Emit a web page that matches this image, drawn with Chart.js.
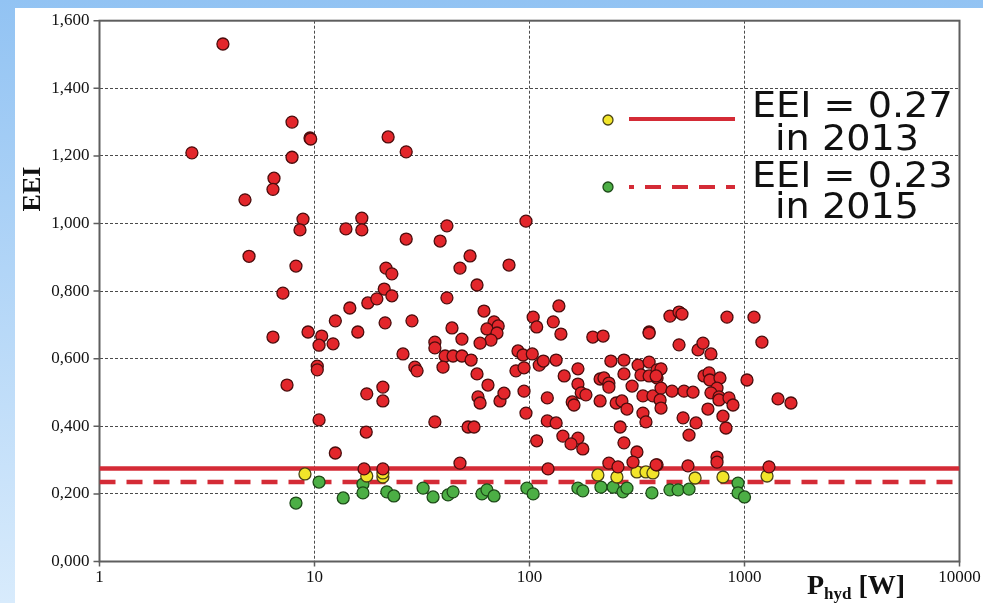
<!DOCTYPE html>
<html>
<head>
<meta charset="utf-8">
<script src="https://cdn.jsdelivr.net/npm/chart.js@4.4.1/dist/chart.umd.min.js"></script>
<style>
  html, body { margin: 0; padding: 0; background: #fff; }
  #wrap { width: 983px; height: 603px; }
</style>
</head>
<body>
<div id="wrap"><canvas id="eeiChart" width="983" height="603"></canvas></div>
<script>
// values: P_hyd [W] and EEI for each pump
const redP = [3.75, 2.69, 7.86, 9.53, 7.86, 6.48, 6.41, 4.75, 8.84, 8.56, 4.96, 8.2, 7.13, 6.41, 9.33, 7.45, 9.6,
  10.5, 10.8, 10.5, 10.3, 10.3, 12.2, 12.5, 14.6, 15.9, 16.6, 14.0, 16.6, 17.7, 19.5, 21.1, 22.9, 21.3, 21.5, 22.9,
  26.7, 22.0, 26.7, 28.4, 25.8, 29.3, 30.0, 17.5, 20.8, 20.8, 17.4, 12.5, 36.3, 47.5, 17.0, 20.8, 41.3, 38.4, 52.9,
  47.5, 80.3, 96.3, 57.0, 41.3, 61.4, 43.6, 48.5, 36.3, 36.3, 40.5, 44.1, 48.5, 53.5, 39.6, 57.0, 64.1, 57.6, 58.9,
  72.9, 76.1, 51.8, 55.2, 68.4, 71.5, 63.4, 70.6, 66.2, 58.9, 88.4, 93.3, 86.5, 94.3, 94.3, 96.3,
  104, 108, 129, 137, 140, 197, 220, 360, 103, 111, 116, 133, 168, 145, 121, 158, 161, 168, 174, 183, 121, 133, 108,
  143, 168, 156, 177, 122, 239, 275, 275, 213, 222, 234, 234, 300, 320, 360, 330, 360, 392, 392, 213, 253, 269, 284,
  337, 375, 337, 348, 264, 275, 316, 303, 234, 258, 392, 450, 496, 512, 829, 1107, 360, 496, 608, 641, 698, 1205,
  409, 388, 409, 460, 523, 576, 405, 409, 648, 684, 690, 769, 745, 698, 761, 761, 847, 884, 676, 794, 518, 595, 820,
  552, 1027, 1432, 1645, 745, 745, 388, 546, 1300];
const redEEI = [1.531, 1.209, 1.300, 1.253, 1.196, 1.134, 1.101, 1.070, 1.013, 0.981, 0.903, 0.874, 0.794, 0.664, 0.679, 0.522, 1.250,
  0.419, 0.667, 0.640, 0.578, 0.567, 0.644, 0.712, 0.750, 0.679, 1.016, 0.984, 0.981, 0.765, 0.777, 0.806, 0.786, 0.706, 0.868, 0.851,
  0.954, 1.256, 1.212, 0.712, 0.614, 0.575, 0.564, 0.496, 0.516, 0.475, 0.383, 0.321, 0.413, 0.291, 0.274, 0.274, 0.993, 0.948, 0.904,
  0.868, 0.877, 1.007, 0.818, 0.780, 0.741, 0.691, 0.658, 0.649, 0.632, 0.608, 0.608, 0.608, 0.596, 0.575, 0.555, 0.522, 0.487, 0.469,
  0.475, 0.498, 0.398, 0.398, 0.709, 0.697, 0.688, 0.676, 0.655, 0.646, 0.623, 0.611, 0.564, 0.573, 0.504, 0.439,
  0.723, 0.694, 0.709, 0.756, 0.673, 0.664, 0.667, 0.679, 0.614, 0.581, 0.593, 0.596, 0.570, 0.549, 0.484, 0.472, 0.463, 0.525, 0.499, 0.493, 0.416, 0.410, 0.357,
  0.371, 0.365, 0.348, 0.333, 0.274, 0.593, 0.596, 0.555, 0.540, 0.543, 0.528, 0.516, 0.519, 0.581, 0.590, 0.552, 0.549, 0.567, 0.543, 0.475, 0.469, 0.475, 0.451,
  0.490, 0.490, 0.439, 0.413, 0.398, 0.351, 0.324, 0.294, 0.291, 0.280, 0.286, 0.726, 0.738, 0.732, 0.723, 0.723, 0.676, 0.641, 0.626, 0.646, 0.614, 0.649,
  0.570, 0.549, 0.513, 0.504, 0.504, 0.501, 0.478, 0.454, 0.549, 0.558, 0.537, 0.543, 0.513, 0.499, 0.487, 0.478, 0.484, 0.463, 0.451, 0.430, 0.425, 0.410, 0.395,
  0.374, 0.537, 0.481, 0.469, 0.309, 0.294, 0.286, 0.283, 0.280];

const yellowP = [9.03, 17.5, 20.8, 20.8, 208, 255, 316, 348, 375, 589, 794, 1273];
const yellowEEI = [0.259, 0.253, 0.250, 0.262, 0.256, 0.250, 0.265, 0.265, 0.262, 0.247, 0.250, 0.253];

const greenP = [8.2, 10.5, 13.6, 16.8, 16.8, 21.7, 23.4, 32.0, 35.6, 41.8, 44.1, 60.1, 63.4, 68.4, 97.3, 104,
  168, 177, 215, 245, 272, 284, 371, 450, 491, 552, 933, 933, 1000];
const greenEEI = [0.173, 0.235, 0.188, 0.229, 0.203, 0.206, 0.194, 0.217, 0.191, 0.197, 0.206, 0.200, 0.212, 0.194, 0.217, 0.200,
  0.217, 0.209, 0.220, 0.220, 0.206, 0.217, 0.203, 0.212, 0.212, 0.214, 0.232, 0.203, 0.191];

const limit2013 = 0.275;
const limit2015 = 0.235;
const legendText = [["EEI = 0.27", "in 2013"], ["EEI = 0.23", "in 2015"]];

const xTicks = [1, 10, 100, 1000, 10000];
const yTicks = [0, 0.2, 0.4, 0.6, 0.8, 1.0, 1.2, 1.4, 1.6];

const RED = '#d42b36';
const serif = '"Liberation Serif", "Times New Roman", serif';

function pts(xs, ys) {
  return xs.map((v, i) => ({ x: v, y: ys[i] }));
}

const decor = {
  id: 'decor',
  beforeDraw(chart) {
    const ctx = chart.ctx;
    const g = ctx.createLinearGradient(0, 0, 0, chart.height);
    g.addColorStop(0, '#92c3f3');
    g.addColorStop(1, '#d8ebfc');
    ctx.save();
    ctx.fillStyle = g;
    ctx.fillRect(0, 0, chart.width, chart.height);
    ctx.fillStyle = '#fff';
    ctx.fillRect(15, 8, chart.width - 15, chart.height - 8);
    ctx.restore();
  },
  beforeDatasetsDraw(chart) {
    const { ctx, chartArea: a, scales: { x, y } } = chart;
    ctx.save();
    ctx.strokeStyle = '#5e5e5e';
    ctx.lineWidth = 2;
    ctx.strokeRect(a.left, a.top, a.right - a.left, a.bottom - a.top);
    ctx.lineWidth = 1.5;
    ctx.beginPath();
    yTicks.forEach(v => {
      const py = y.getPixelForValue(v);
      ctx.moveTo(a.left - 6, py);
      ctx.lineTo(a.left, py);
    });
    xTicks.forEach(v => {
      const px = x.getPixelForValue(v);
      ctx.moveTo(px, a.bottom);
      ctx.lineTo(px, a.bottom + 5);
    });
    ctx.stroke();
    ctx.restore();
  },
  afterDraw(chart) {
    const ctx = chart.ctx;
    ctx.save();
    ctx.fillStyle = '#111';

    // y title
    ctx.save();
    ctx.translate(40, 189);
    ctx.rotate(-Math.PI / 2);
    ctx.font = 'bold 26px ' + serif;
    ctx.textAlign = 'center';
    ctx.textBaseline = 'alphabetic';
    ctx.fillText('EEI', 0, 0);
    ctx.restore();

    // x title with subscript
    ctx.textAlign = 'left';
    ctx.textBaseline = 'alphabetic';
    ctx.font = 'bold 28px ' + serif;
    ctx.fillText('P', 807, 594);
    let w = ctx.measureText('P').width;
    ctx.font = 'bold 17px ' + serif;
    ctx.fillText('hyd', 807 + w, 599);
    w += ctx.measureText('hyd').width;
    ctx.font = 'bold 28px ' + serif;
    ctx.fillText(' [W]', 807 + w, 594);

    // legend
    ctx.lineWidth = 4;
    ctx.strokeStyle = RED;
    ctx.beginPath();
    ctx.moveTo(629, 119);
    ctx.lineTo(735, 119);
    ctx.stroke();
    ctx.setLineDash([16, 11]);
    ctx.lineDashOffset = 11;
    ctx.beginPath();
    ctx.moveTo(629, 187);
    ctx.lineTo(735, 187);
    ctx.stroke();
    ctx.setLineDash([]);

    ctx.lineWidth = 1.3;
    ctx.fillStyle = '#f2e52a';
    ctx.strokeStyle = '#4a4416';
    ctx.beginPath();
    ctx.arc(608, 120, 5, 0, Math.PI * 2);
    ctx.fill();
    ctx.stroke();
    ctx.fillStyle = '#4caf45';
    ctx.strokeStyle = '#1d4a18';
    ctx.beginPath();
    ctx.arc(608, 187, 5, 0, Math.PI * 2);
    ctx.fill();
    ctx.stroke();

    ctx.fillStyle = '#111';
    ctx.font = '36px "DejaVu Sans", Verdana, sans-serif';
    const put = (s, px, py) => {
      ctx.save();
      ctx.translate(px, py);
      ctx.scale(1.06, 1);
      ctx.fillText(s, 0, 0);
      ctx.restore();
    };
    put(legendText[0][0], 752, 117);
    put(legendText[0][1], 775, 150);
    put(legendText[1][0], 752, 187);
    put(legendText[1][1], 775, 218);
    ctx.restore();
  }
};

new Chart(document.getElementById('eeiChart'), {
  type: 'scatter',
  data: {
    datasets: [
      {
        label: 'EEI',
        data: pts(redP, redEEI),
        backgroundColor: '#e3262b',
        borderColor: '#4b0d0d',
        borderWidth: 1.3,
        pointRadius: 6,
        order: 1
      },
      {
        label: 'between',
        data: pts(yellowP, yellowEEI),
        backgroundColor: '#f2e52a',
        borderColor: '#4a4416',
        borderWidth: 1.3,
        pointRadius: 6,
        order: 2
      },
      {
        label: 'below 2015',
        data: pts(greenP, greenEEI),
        backgroundColor: '#4caf45',
        borderColor: '#1d4a18',
        borderWidth: 1.3,
        pointRadius: 6,
        order: 3
      },
      {
        type: 'line',
        label: 'EEI = 0.27 in 2013',
        data: [{ x: xTicks[0], y: limit2013 }, { x: xTicks[xTicks.length - 1], y: limit2013 }],
        borderColor: RED,
        borderWidth: 4.5,
        pointRadius: 0,
        order: 4
      },
      {
        type: 'line',
        label: 'EEI = 0.23 in 2015',
        data: [{ x: xTicks[0], y: limit2015 }, { x: xTicks[xTicks.length - 1], y: limit2015 }],
        borderColor: RED,
        borderWidth: 4.5,
        borderDash: [16, 11],
        pointRadius: 0,
        order: 5
      }
    ]
  },
  options: {
    responsive: false,
    animation: false,
    layout: { padding: { left: 0, top: 20.7, right: 23.5, bottom: 0 } },
    plugins: {
      legend: { display: false },
      tooltip: { enabled: false }
    },
    scales: {
      x: {
        type: 'logarithmic',
        min: 1,
        max: 10000,
        afterBuildTicks: s => { s.ticks = xTicks.map(v => ({ value: v })); },
        afterFit: s => { s.height = 41.5; s.paddingLeft = 0; s.paddingRight = 0; },
        ticks: {
          autoSkip: false,
          maxRotation: 0,
          padding: 6,
          color: '#111',
          font: { family: serif, size: 17 },
          callback: v => String(v)
        },
        grid: { color: '#4a4a4a', lineWidth: 1, drawTicks: false },
        border: { display: false, dash: [3, 2] }
      },
      y: {
        min: 0,
        max: 1.6,
        afterBuildTicks: s => { s.ticks = yTicks.map(v => ({ value: v })); },
        afterFit: s => { s.width = 99.5; s.paddingTop = 0; s.paddingBottom = 0; },
        ticks: {
          padding: 10,
          color: '#111',
          font: { family: serif, size: 17 },
          callback: v => Number(v).toFixed(3).replace('.', ',')
        },
        grid: { color: '#4a4a4a', lineWidth: 1, drawTicks: false },
        border: { display: false, dash: [3, 2] }
      }
    }
  },
  plugins: [decor]
});
</script>
</body>
</html>
